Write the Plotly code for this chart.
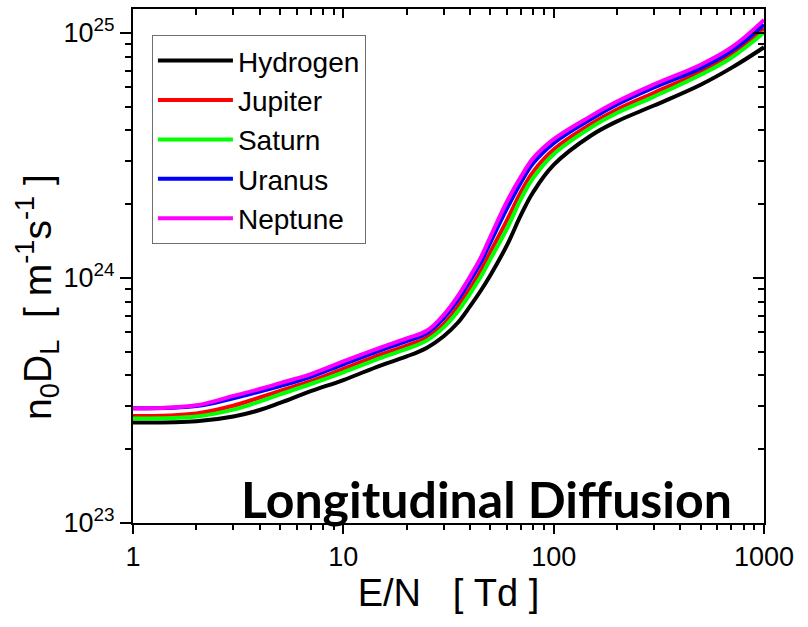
import plotly.graph_objects as go

# Reduced field E/N in Td
E_N = [1, 2, 3, 4, 5, 7, 10, 15, 20, 25, 30, 35, 40, 45, 50, 60, 70, 80, 100,
       150, 200, 300, 500, 700, 1000]

# Longitudinal diffusion n0*D_L in m^-1 s^-1
hydrogen = [2.57e23, 2.60e23, 2.72e23, 2.89e23, 3.09e23, 3.45e23, 3.83e23, 4.39e23,
            4.78e23, 5.19e23, 5.78e23, 6.56e23, 7.65e23, 8.86e23, 1.025e24, 1.36e24,
            1.81e24, 2.24e24, 2.89e24, 3.80e24, 4.35e24, 5.05e24, 6.14e24, 7.19e24,
            8.73e24]
jupiter = [2.73e23, 2.80e23, 3.01e23, 3.25e23, 3.46e23, 3.79e23, 4.25e23, 4.86e23,
           5.29e23, 5.72e23, 6.48e23, 7.63e23, 9.05e23, 1.068e24, 1.274e24, 1.72e24,
           2.246e24, 2.713e24, 3.339e24, 4.24e24, 4.864e24, 5.69e24, 6.93e24, 8.15e24,
           1.040e25]
saturn = [2.67e23, 2.72e23, 2.90e23, 3.13e23, 3.35e23, 3.69e23, 4.12e23, 4.71e23,
          5.13e23, 5.56e23, 6.28e23, 7.29e23, 8.61e23, 1.010e24, 1.193e24, 1.59e24,
          2.106e24, 2.561e24, 3.197e24, 4.10e24, 4.704e24, 5.49e24, 6.74e24, 7.91e24,
          1.003e25]
uranus = [2.94e23, 3.00e23, 3.23e23, 3.44e23, 3.62e23, 3.95e23, 4.44e23, 5.06e23,
          5.52e23, 5.96e23, 6.85e23, 8.12e23, 9.71e23, 1.155e24, 1.394e24, 1.92e24,
          2.457e24, 2.94e24, 3.546e24, 4.44e24, 5.097e24, 5.98e24, 7.17e24, 8.43e24,
          1.081e25]
neptune = [2.93e23, 3.02e23, 3.30e23, 3.52e23, 3.72e23, 4.05e23, 4.56e23, 5.19e23,
           5.66e23, 6.10e23, 7.07e23, 8.43e23, 1.012e24, 1.21e24, 1.472e24, 2.05e24,
           2.594e24, 3.08e24, 3.68e24, 4.57e24, 5.24e24, 6.16e24, 7.41e24, 8.71e24,
           1.129e25]

series = [("Hydrogen", hydrogen, "#000000"),
          ("Jupiter", jupiter, "#ff0000"),
          ("Saturn", saturn, "#00ff00"),
          ("Uranus", uranus, "#0000ff"),
          ("Neptune", neptune, "#ff00ff")]

x_major = [1, 10, 100, 1000]
x_major_text = ["1", "10", "100", "1000"]
y_major = [1e23, 1e24, 1e25]
y_major_text = ["10<sup>23</sup>", "10<sup>24</sup>", "10<sup>25</sup>"]
x_minor = [m * 10.0 ** k for k in range(3) for m in range(2, 10)]
y_minor = [m * 10.0 ** k for k in range(23, 25) for m in range(2, 10)]

FONT = "Arial, Liberation Sans, sans-serif"
X_RANGE = [0, 3]
Y_RANGE = [23, 25.097]

fig = go.Figure()
for name, vals, color in series:
    fig.add_trace(go.Scatter(
        x=E_N, y=vals, name=name, mode="lines",
        line=dict(color=color, width=4, shape="spline", smoothing=1.1),
    ))

# empty trace that carries the mirrored top/right axes with inward ticks
fig.add_trace(go.Scatter(x=[], y=[], xaxis="x2", yaxis="y2",
                         showlegend=False, hoverinfo="skip"))

common = dict(type="log", showgrid=False, zeroline=False)

fig.update_layout(
    width=808, height=627,
    margin=dict(l=133, r=44, t=7, b=104),
    paper_bgcolor="white", plot_bgcolor="white",
    font=dict(family=FONT, color="black"),
    showlegend=True,
    legend=dict(
        x=0.030, y=0.9496, xanchor="left", yanchor="top",
        bordercolor="#6e6e6e", borderwidth=1, bgcolor="white",
        font=dict(family=FONT, size=28, color="black"),
        itemwidth=75, tracegroupgap=0,
    ),
    xaxis=dict(
        **common, range=X_RANGE,
        tickmode="array", tickvals=x_major, ticktext=x_major_text,
        ticks="outside", ticklen=9, tickwidth=2, tickcolor="black",
        minor=dict(tickmode="array", tickvals=x_minor, ticks="outside",
                   ticklen=5, tickwidth=2, tickcolor="black", showgrid=False),
        showline=True, linewidth=2, linecolor="black", mirror=True,
        tickfont=dict(family=FONT, size=27),
        title=dict(text="E/N\u00a0\u00a0\u00a0[\u00a0Td\u00a0]",
                   font=dict(family=FONT, size=38), standoff=8),
    ),
    yaxis=dict(
        **common, range=Y_RANGE,
        tickmode="array", tickvals=y_major, ticktext=y_major_text,
        ticks="outside", ticklen=11, tickwidth=2, tickcolor="black",
        minor=dict(tickmode="array", tickvals=y_minor, ticks="outside",
                   ticklen=6, tickwidth=2, tickcolor="black", showgrid=False),
        showline=True, linewidth=2, linecolor="black", mirror=True,
        tickfont=dict(family=FONT, size=27),
    ),
    xaxis2=dict(
        **common, range=X_RANGE, overlaying="x", side="top", anchor="y2",
        tickmode="array", tickvals=x_major, showticklabels=False,
        ticks="inside", ticklen=9, tickwidth=2, tickcolor="black",
        minor=dict(tickmode="array", tickvals=x_minor, ticks="inside",
                   ticklen=6, tickwidth=2, tickcolor="black", showgrid=False),
        showline=False,
    ),
    yaxis2=dict(
        **common, range=Y_RANGE, overlaying="y", side="right", anchor="x2",
        tickmode="array", tickvals=y_major, showticklabels=False,
        ticks="inside", ticklen=11, tickwidth=2, tickcolor="black",
        minor=dict(tickmode="array", tickvals=y_minor, ticks="inside",
                   ticklen=6, tickwidth=2, tickcolor="black", showgrid=False),
        showline=False,
    ),
    annotations=[
        dict(text="n<sub>0</sub>D<sub>L</sub>\u00a0\u00a0[\u00a0m<sup>-1</sup>s<sup>-1</sup>\u00a0]",
             xref="paper", yref="paper", x=-0.152, y=0.44,
             xanchor="center", yanchor="middle", textangle=-90,
             showarrow=False, font=dict(family=FONT, size=39, color="black")),
        dict(text="<b>Longitudinal Diffusion</b>",
             xref="paper", yref="paper", x=0.560, y=0.0465,
             xanchor="center", yanchor="middle", showarrow=False,
             font=dict(family="Lato, sans-serif", size=50, color="black")),
    ],
)

fig.write_html("out.html")
